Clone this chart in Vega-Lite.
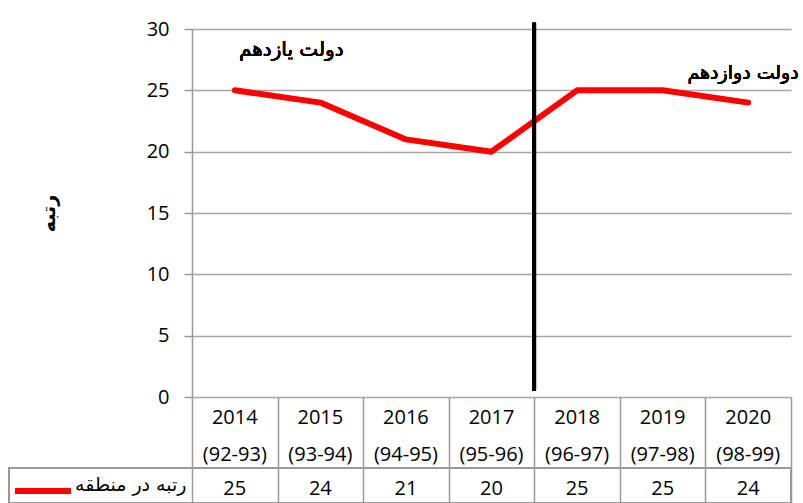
{
  "$schema": "https://vega.github.io/schema/vega-lite/v6.json",
  "padding": {"left": 8, "top": 19, "right": 0, "bottom": 0},
  "spacing": 0,
  "bounds": "flush",
  "background": "white",
  "config": {
    "view": {"stroke": null},
    "font": "Open Sans",
    "text": {"font": "Open Sans", "fontSize": 20, "color": "black"}
  },
  "data": {
    "values": [
      {"year": 2014, "period": "(92-93)", "rank": 25, "series": "رتبه در منطقه"},
      {"year": 2015, "period": "(93-94)", "rank": 24, "series": "رتبه در منطقه"},
      {"year": 2016, "period": "(94-95)", "rank": 21, "series": "رتبه در منطقه"},
      {"year": 2017, "period": "(95-96)", "rank": 20, "series": "رتبه در منطقه"},
      {"year": 2018, "period": "(96-97)", "rank": 25, "series": "رتبه در منطقه"},
      {"year": 2019, "period": "(97-98)", "rank": 25, "series": "رتبه در منطقه"},
      {"year": 2020, "period": "(98-99)", "rank": 24, "series": "رتبه در منطقه"}
    ]
  },
  "vconcat": [
    {
      "width": 599,
      "height": 368,
      "layer": [
        {
          "mark": {"type": "line", "strokeWidth": 6, "strokeCap": "round", "strokeJoin": "round"},
          "encoding": {
            "x": {"field": "year", "type": "quantitative", "scale": {"domain": [2013.5, 2020.5], "nice": false, "zero": false}, "axis": null},
            "y": {
              "field": "rank", "type": "quantitative",
              "scale": {"domain": [0, 30], "nice": false},
              "axis": {
                "values": [0, 5, 10, 15, 20, 25, 30],
                "title": "رتبه",
                "titleFont": "DejaVu Sans",
                "titleFontSize": 19,
                "titleFontWeight": "bold",
                "titleColor": "black",
                "titlePadding": 88,
                "labelFont": "Open Sans",
                "labelFontSize": 20,
                "labelColor": "black",
                "labelPadding": 15,
                "tickSize": 8,
                "tickColor": "#999999",
                "tickWidth": 1.5,
                "domainColor": "#999999",
                "domainWidth": 1.5,
                "grid": true,
                "gridColor": "#a6a6a6",
                "gridWidth": 1.5
              }
            },
            "color": {
              "field": "series", "type": "nominal",
              "scale": {"range": ["#ff0000"]},
              "legend": {
                "orient": "none",
                "legendX": -159,
                "legendY": 452,
                "title": null,
                "symbolType": "M-4,0H4",
                "symbolSize": 196,
                "symbolStrokeWidth": 6,
                "labelExpr": "''",
                "padding": 0
              }
            }
          }
        },
        {
          "mark": {"type": "rule", "color": "black", "strokeWidth": 3.5},
          "encoding": {
            "x": {"datum": 2017.5, "type": "quantitative"},
            "y": {"datum": 0.5, "type": "quantitative"},
            "y2": {"datum": 30.5}
          }
        },
        {
          "mark": {"type": "text", "font": "DejaVu Sans", "fontSize": 20, "align": "center"},
          "encoding": {
            "x": {"datum": 2014.66, "type": "quantitative"},
            "y": {"datum": 28.3, "type": "quantitative"},
            "text": {"value": "دولت یازدهم"}
          }
        },
        {
          "mark": {"type": "text", "font": "DejaVu Sans", "fontSize": 19, "align": "center"},
          "encoding": {
            "x": {"datum": 2019.94, "type": "quantitative"},
            "y": {"datum": 26.4, "type": "quantitative"},
            "text": {"value": "دولت دوازدهم"}
          }
        }
      ]
    },
    {
      "width": 599,
      "height": 106,
      "encoding": {
        "x": {
          "field": "year", "type": "quantitative",
          "scale": {"domain": [2013.5, 2020.5], "nice": false, "zero": false},
          "axis": {
            "values": [2013.5, 2014.5, 2015.5, 2016.5, 2017.5, 2018.5, 2019.5, 2020.5],
            "grid": true, "gridColor": "#999999", "gridWidth": 1.5,
            "labels": false, "ticks": false, "domain": false, "title": null
          }
        }
      },
      "layer": [
        {
          "mark": {"type": "rect", "fill": null, "stroke": "#999999", "strokeWidth": 1.5},
          "encoding": {
            "x": {"datum": 2011.36, "type": "quantitative"},
            "x2": {"datum": 2020.5},
            "y": {
              "datum": "rank", "type": "nominal",
              "scale": {"domain": ["year", "period", "rank"], "paddingInner": 0, "paddingOuter": 0},
              "axis": {
                "values": ["rank"],
                "ticks": false,
                "domain": false,
                "title": null,
                "labelExpr": "datum.value == 'rank' ? 'رتبه در منطقه' : ''",
                "labelFont": "DejaVu Sans",
                "labelFontSize": 19,
                "labelColor": "black",
                "labelPadding": 6
              }
            }
          }
        },
        {
          "mark": {"type": "text", "dy": 3},
          "encoding": {
            "y": {"datum": "year", "type": "nominal"},
            "text": {"field": "year", "type": "nominal"}
          }
        },
        {
          "mark": {"type": "text", "dy": 5},
          "encoding": {
            "y": {"datum": "period", "type": "nominal"},
            "text": {"field": "period", "type": "nominal"}
          }
        },
        {
          "mark": {"type": "text", "dy": 4},
          "encoding": {
            "y": {"datum": "rank", "type": "nominal"},
            "text": {"field": "rank", "type": "nominal"}
          }
        }
      ]
    }
  ]
}
